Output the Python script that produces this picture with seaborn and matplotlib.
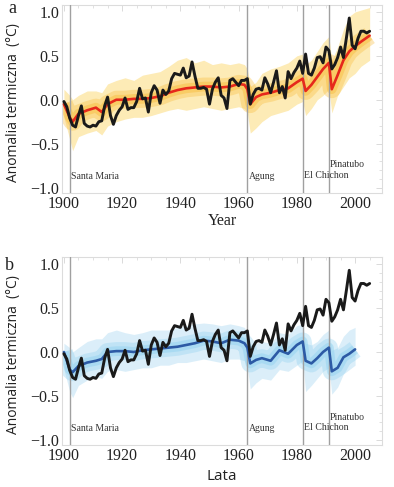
import matplotlib
matplotlib.use("Agg")
import matplotlib.pyplot as plt
import seaborn as sns
import pandas as pd
from matplotlib.ticker import MultipleLocator

# observed annual anomaly (black line), 1900-2005
OBS_YEARS = list(range(1900, 2006))
OBS = [
    -0.02, -0.08, -0.21, -0.29, -0.31, -0.18, -0.07, -0.27, -0.30, -0.31,
    -0.29, -0.30, -0.25, -0.24, -0.07, 0.03, -0.18, -0.28, -0.18, -0.12,
    -0.08, 0.02, -0.11, -0.09, -0.09, -0.02, 0.13, 0.01, 0.02, -0.14,
    0.08, 0.16, 0.11, -0.04, 0.11, 0.06, 0.10, 0.24, 0.30, 0.29,
    0.28, 0.36, 0.25, 0.27, 0.43, 0.27, 0.13, 0.13, 0.14, 0.12,
    -0.05, 0.12, 0.20, 0.25, 0.05, 0.02, -0.10, 0.22, 0.24, 0.20,
    0.16, 0.22, 0.22, 0.24, -0.05, 0.06, 0.12, 0.13, 0.11, 0.25,
    0.18, 0.08, 0.20, 0.33, 0.08, 0.15, 0.02, 0.32, 0.24, 0.31,
    0.36, 0.44, 0.30, 0.52, 0.30, 0.28, 0.36, 0.48, 0.49, 0.42,
    0.60, 0.56, 0.35, 0.40, 0.48, 0.60, 0.48, 0.70, 0.93, 0.62,
    0.58, 0.70, 0.78, 0.78, 0.76, 0.78,
]

# panel a: all forcings, ensemble mean and spread of the runs
YEARS_A = [1900, 1902, 1903, 1905, 1908, 1911, 1913, 1915, 1918, 1921,
           1924, 1927, 1930, 1933, 1936, 1939, 1942, 1945, 1948, 1951,
           1954, 1957, 1960, 1962, 1963, 1964, 1966, 1968, 1971, 1974,
           1977, 1980, 1982, 1983, 1985, 1987, 1989, 1991, 1992, 1994,
           1996, 1998, 2000, 2002, 2005]
MEAN_A = [-0.05, -0.20, -0.25, -0.16, -0.12, -0.09, -0.14, -0.05, 0.00, 0.00,
          0.01, 0.01, 0.02, 0.04, 0.08, 0.11, 0.13, 0.14, 0.15, 0.15,
          0.14, 0.15, 0.18, 0.17, 0.12, -0.05, 0.03, 0.06, 0.08, 0.11,
          0.13, 0.20, 0.24, 0.10, 0.17, 0.26, 0.35, 0.42, 0.12, 0.28,
          0.45, 0.55, 0.61, 0.66, 0.73]
UPPER_A = [0.12, 0.05, 0.00, 0.05, 0.10, 0.10, 0.08, 0.18, 0.22, 0.25,
           0.22, 0.28, 0.30, 0.32, 0.38, 0.45, 0.48, 0.42, 0.45, 0.40,
           0.42, 0.40, 0.42, 0.40, 0.35, 0.15, 0.20, 0.30, 0.35, 0.38,
           0.42, 0.50, 0.52, 0.40, 0.45, 0.55, 0.65, 0.72, 0.45, 0.60,
           0.80, 0.95, 1.00, 1.02, 1.05]
LOWER_A = [-0.20, -0.45, -0.58, -0.42, -0.38, -0.35, -0.40, -0.30, -0.25, -0.22,
           -0.20, -0.20, -0.18, -0.15, -0.12, -0.10, -0.12, -0.10, -0.08, -0.10,
           -0.12, -0.10, -0.08, -0.10, -0.15, -0.38, -0.32, -0.25, -0.18, -0.15,
           -0.12, -0.05, -0.02, -0.18, -0.10, 0.00, 0.05, 0.12, -0.15, 0.05,
           0.15, 0.25, 0.30, 0.38, 0.45]

# panel b: natural forcings only
YEARS_B = YEARS_A[:-2]
MEAN_B = [0.00, -0.20, -0.23, -0.16, -0.12, -0.10, -0.08, 0.00, 0.01, 0.01,
          0.00, 0.02, 0.03, 0.04, 0.05, 0.06, 0.08, 0.10, 0.13, 0.12,
          0.10, 0.14, 0.13, 0.10, 0.05, -0.13, -0.09, -0.07, -0.10, 0.02,
          -0.02, 0.08, 0.12, -0.10, -0.13, -0.07, 0.00, 0.05, -0.22, -0.18,
          -0.06, -0.02, 0.03]
UPPER_B = [0.10, 0.05, 0.00, 0.05, 0.12, 0.15, 0.15, 0.22, 0.25, 0.22,
           0.20, 0.22, 0.25, 0.25, 0.25, 0.28, 0.30, 0.32, 0.33, 0.32,
           0.30, 0.32, 0.30, 0.28, 0.22, 0.05, 0.10, 0.12, 0.10, 0.22,
           0.20, 0.30, 0.32, 0.10, 0.08, 0.12, 0.20, 0.25, 0.02, 0.05,
           0.18, 0.25, 0.28]
LOWER_B = [-0.20, -0.45, -0.52, -0.38, -0.32, -0.28, -0.30, -0.22, -0.20, -0.22,
           -0.20, -0.18, -0.18, -0.15, -0.15, -0.12, -0.12, -0.10, -0.08, -0.10,
           -0.12, -0.08, -0.08, -0.10, -0.18, -0.42, -0.35, -0.30, -0.32, -0.20,
           -0.22, -0.15, -0.10, -0.45, -0.38, -0.30, -0.22, -0.18, -0.48, -0.40,
           -0.25, -0.20, -0.15]

VOLCANOES = ["Santa Maria", "Agung", "El Chichon", "Pinatubo"]
VOLCANO_YEARS = [1902, 1963, 1982, 1991]
VOLCANO_LABEL_Y = [-0.87, -0.87, -0.86, -0.74]

sns.set_theme(style="white")
SERIF = ["Liberation Serif", "DejaVu Serif"]
SANS = ["Open Sans", "DejaVu Sans"]
plt.rcParams["font.family"] = SERIF
plt.rcParams["axes.unicode_minus"] = True

fig = plt.figure(figsize=(3.94, 4.87), dpi=100)
ax_a = fig.add_axes([0.157, 0.604, 0.813, 0.386])
ax_b = fig.add_axes([0.157, 0.086, 0.813, 0.386])

obs_df = pd.DataFrame({"year": OBS_YEARS, "anom": OBS})

panels = [
    (ax_a, YEARS_A, MEAN_A, UPPER_A, LOWER_A, "#fdeab2", "#f8bb3a", "#e6281b", "a"),
    (ax_b, YEARS_B, MEAN_B, UPPER_B, LOWER_B, "#d9eef9", "#8fd1f0", "#2c5aa5", "b"),
]

for ax, yrs, mean, up, lo, c_out, c_core, c_mean, letter in panels:
    ax.fill_between(yrs, lo, up, color=c_out, lw=0, alpha=0.95, zorder=1)
    # dense core of the run spaghetti around the ensemble mean
    sns.lineplot(x=yrs, y=mean, ax=ax, color=c_core, lw=13, alpha=0.35,
                 solid_capstyle="butt", zorder=2)
    sns.lineplot(x=yrs, y=mean, ax=ax, color=c_core, lw=7, alpha=0.45,
                 solid_capstyle="butt", zorder=2)
    for vy in VOLCANO_YEARS:
        ax.axvline(vy, color="#a0a0a0", lw=1.0, zorder=3)
    sns.lineplot(x=yrs, y=mean, ax=ax, color=c_mean, lw=1.9, zorder=4)
    sns.lineplot(data=obs_df, x="year", y="anom", ax=ax, color="#1a1a1a",
                 lw=2.1, zorder=5)
    for name, vy, ty in zip(VOLCANOES, VOLCANO_YEARS, VOLCANO_LABEL_Y):
        ax.text(vy + 0.4, ty, name, fontsize=7, color="#333333",
                va="center", ha="left", zorder=6)

    ax.set_xlim(1899.3, 2009.3)
    ax.set_ylim(-1.06, 1.08)
    ax.xaxis.set_major_locator(MultipleLocator(20))
    ax.xaxis.set_minor_locator(MultipleLocator(5))
    ax.yaxis.set_major_locator(MultipleLocator(0.5))
    ax.yaxis.set_minor_locator(MultipleLocator(0.1))
    ax.yaxis.set_major_formatter(plt.FuncFormatter(lambda v, p: f"{v:.1f}".replace("-", "\u2212")))
    ax.tick_params(which="both", direction="in", top=True, right=True,
                   color="#d4d4d4", labelsize=11.5, labelcolor="#222222")
    ax.tick_params(which="major", length=4, width=0.6, pad=2)
    ax.tick_params(which="minor", length=2, width=0.5)
    for sp in ax.spines.values():
        sp.set_color("#dcdcdc")
        sp.set_linewidth(0.8)
    ax.set_ylabel("Anomalia termiczna  (\u00b0C)", family=SANS, fontsize=10,
                  color="#222222", labelpad=2)
    ax.yaxis.set_label_coords(-0.128, 0.48)
    ax.set_xlabel("")
    fig.text(0.012 if letter == "b" else 0.02, (0.982 if letter == "a" else 0.455),
             letter, fontsize=13, color="#222222", va="center", ha="left")

ax_a.set_xlabel("Year", fontsize=11.5, color="#222222", labelpad=1)
ax_b.set_xlabel("Lata", family=SANS, fontsize=11, color="#222222", labelpad=4)

fig.savefig("out.png", dpi=100)
